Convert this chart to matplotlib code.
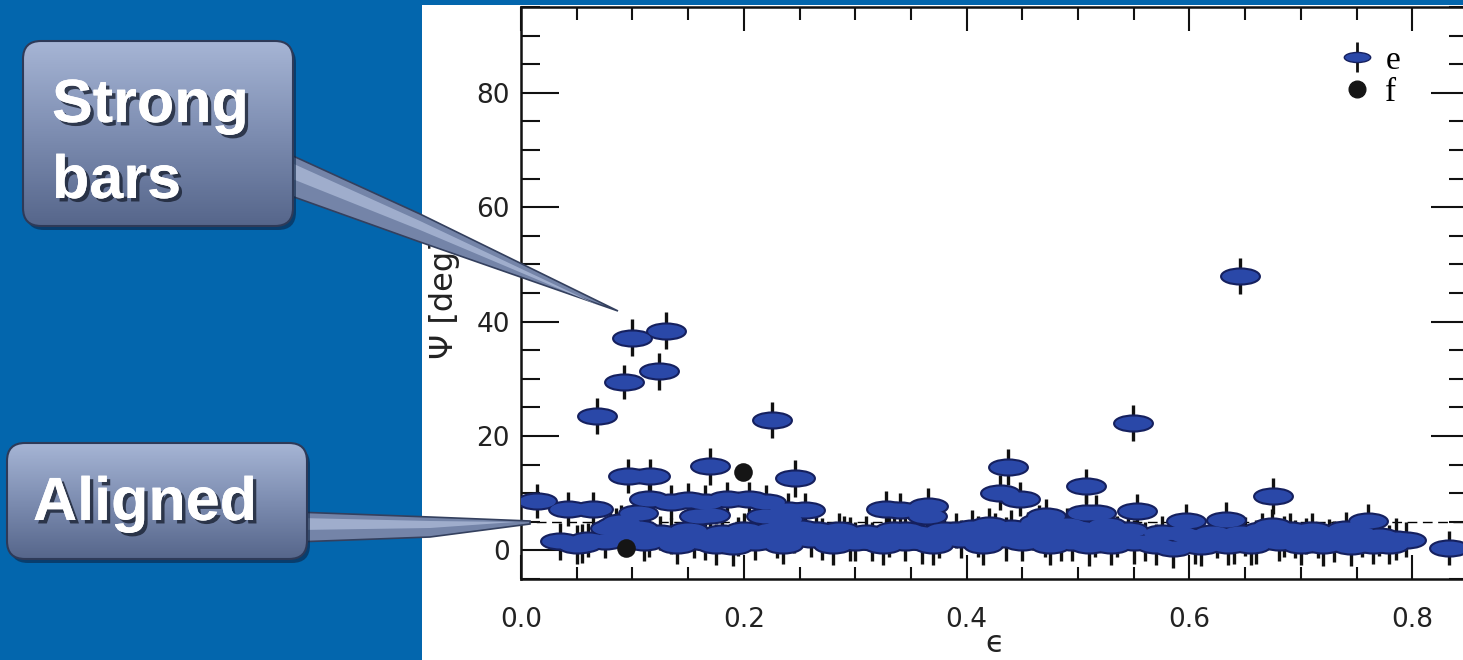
import numpy as np
import matplotlib
matplotlib.use('Agg')
import matplotlib.pyplot as plt
from matplotlib.path import Path
from matplotlib.transforms import Affine2D
from matplotlib.patches import FancyBboxPatch, Polygon, Rectangle
from matplotlib.colors import LinearSegmentedColormap
from matplotlib.lines import Line2D
import matplotlib.patheffects as pe

# sample "e": ellipticity, misalignment angle, error
e_eps = [0.014, 0.035, 0.042, 0.055, 0.065, 0.068, 0.075, 0.080, 0.085, 0.0925,
         0.095, 0.096, 0.100, 0.105, 0.110, 0.115, 0.116, 0.124, 0.125, 0.130,
         0.135, 0.140, 0.150, 0.150, 0.165, 0.165, 0.1695, 0.170, 0.180, 0.185,
         0.190, 0.200, 0.205, 0.210, 0.220, 0.2254, 0.225, 0.235, 0.240, 0.2457,
         0.250, 0.255, 0.260, 0.265, 0.280, 0.290, 0.300, 0.310, 0.325, 0.328,
         0.335, 0.340, 0.345, 0.355, 0.364, 0.365, 0.370, 0.380, 0.395, 0.405,
         0.415, 0.425, 0.430, 0.4375, 0.440, 0.4475, 0.450, 0.460, 0.465, 0.471,
         0.475, 0.480, 0.495, 0.500, 0.507, 0.507, 0.515, 0.516, 0.525, 0.530,
         0.545, 0.549, 0.5525, 0.560, 0.575, 0.585, 0.597, 0.600, 0.610, 0.620,
         0.633, 0.635, 0.645, 0.645, 0.655, 0.665, 0.674, 0.675, 0.680, 0.690,
         0.700, 0.715, 0.725, 0.7405, 0.745, 0.755, 0.760, 0.765, 0.779, 0.794,
         0.833,
         # dense band
         0.050, 0.060, 0.090, 0.105, 0.115, 0.135, 0.155, 0.160, 0.175, 0.195,
         0.215, 0.220, 0.230, 0.235, 0.245, 0.270, 0.285, 0.295, 0.315, 0.330,
         0.345, 0.360, 0.375, 0.390, 0.410, 0.420, 0.435, 0.455, 0.470, 0.485,
         0.490, 0.505, 0.510, 0.520, 0.535, 0.550, 0.570, 0.590, 0.605, 0.625,
         0.640, 0.650, 0.660, 0.685, 0.695, 0.705, 0.720, 0.730, 0.750, 0.770,
         0.785, 0.710]
e_psi = [8.6, 1.6, 7.2, 1.2, 7.2, 23.5, 1.7, 4.0, 4.5, 29.5,
         3.0, 13.0, 37.2, 4.0, 1.5, 9.0, 13.0, 31.3, 3.0, 38.4,
         8.5, 1.0, 8.8, 3.5, 8.5, 1.5, 14.7, 6.2, 3.0, 9.0,
         0.8, 3.5, 9.0, 1.5, 8.5, 22.8, 3.5, 1.0, 7.0, 12.6,
         4.0, 7.0, 2.0, 3.5, 1.0, 3.0, 1.5, 3.0, 1.0, 7.2,
         3.5, 7.0, 1.5, 3.0, 6.0, 7.7, 1.0, 3.5, 2.0, 4.0,
         1.0, 3.5, 10.1, 14.6, 4.0, 9.0, 1.5, 3.0, 5.0, 6.0,
         1.0, 3.5, 1.5, 4.0, 11.2, 6.6, 2.0, 6.6, 4.5, 1.0,
         3.5, 22.3, 6.9, 1.5, 3.0, 0.5, 5.1, 2.5, 0.8, 3.0,
         5.4, 1.0, 48.0, 3.0, 1.0, 3.5, 4.3, 9.5, 1.5, 3.5,
         1.0, 1.8, 2.5, 3.7, 0.8, 2.0, 5.1, 1.0, 1.0, 1.9,
         0.4,
         1.0, 1.8, 5.0, 6.5, 2.5, 2.5, 2.5, 6.0, 1.0, 2.5,
         3.0, 6.0, 2.5, 5.5, 3.0, 2.0, 3.5, 2.0, 1.5, 2.5,
         3.5, 1.5, 2.0, 3.5, 2.5, 4.5, 2.0, 3.5, 2.5, 2.0,
         4.5, 3.0, 1.0, 3.0, 2.5, 1.5, 1.0, 3.0, 1.5, 2.0,
         1.5, 2.5, 1.5, 2.5, 2.0, 2.5, 1.0, 1.5, 3.0, 2.5,
         2.0, 3.5]
e_err = [3.0, 3.2, 3.0, 3.4, 3.0, 3.2, 3.0, 2.8, 3.0, 3.0,
         3.2, 3.0, 3.2, 3.0, 3.4, 3.0, 3.0, 3.2, 3.0, 3.2,
         3.0, 3.4, 3.0, 3.0, 3.0, 3.2, 3.2, 3.0, 3.0, 3.0,
         3.6, 3.0, 3.0, 3.2, 3.0, 3.2, 3.0, 3.4, 3.0, 3.2,
         3.0, 3.0, 3.2, 3.0, 3.6, 3.0, 3.4, 3.0, 3.6, 3.2,
         3.0, 3.0, 3.4, 3.0, 3.0, 3.2, 3.6, 3.0, 3.4, 3.0,
         3.6, 3.0, 3.0, 3.2, 3.0, 3.0, 3.4, 3.0, 3.0, 3.0,
         3.6, 3.0, 3.4, 3.0, 3.0, 3.0, 3.2, 3.0, 3.0, 3.6,
         3.0, 3.2, 3.0, 3.4, 3.0, 3.6, 3.0, 3.0, 3.6, 3.0,
         3.0, 3.6, 3.2, 3.0, 3.6, 3.0, 3.0, 3.2, 3.4, 3.0,
         3.6, 3.2, 3.0, 3.0, 3.6, 3.2, 3.0, 3.4, 3.4, 3.0,
         3.0,
         3.4, 3.0, 3.0, 3.2, 3.6, 3.2, 3.8, 3.0, 3.6, 3.4,
         3.0, 3.2, 3.8, 3.0, 3.4, 3.6, 3.0, 3.8, 3.4, 3.6,
         3.0, 3.8, 3.4, 3.0, 3.6, 3.0, 3.8, 3.2, 3.6, 3.8,
         3.0, 3.4, 3.8, 3.2, 3.6, 3.8, 3.6, 3.2, 3.8, 3.4,
         3.8, 3.4, 3.8, 3.6, 3.4, 3.2, 3.8, 3.6, 3.2, 3.4,
         3.6, 3.0]

# sample "f"
f_eps = [0.0942, 0.1994]
f_psi = [0.5, 13.7]

x_ticks = [0.0, 0.2, 0.4, 0.6, 0.8]
y_ticks = [0, 20, 40, 60, 80]

bg_blue = '#0366ad'
fill = '#2a48a8'
edge = '#15205e'

W, H = 1463, 660
fig = plt.figure(figsize=(W / 100, H / 100), dpi=100)
fig.patch.set_facecolor(bg_blue)

# white slide panel behind the plot
fig.add_artist(Rectangle((422 / W, 0), 1, (H - 5) / H, transform=fig.transFigure,
                         facecolor='white', edgecolor='none', zorder=-1))

# axes run past the right edge of the picture, like the cropped original
ax = fig.add_axes([521 / W, (H - 579) / H, 947 / W, 572 / H])
ax.set_facecolor('white')
ax.set_xlim(0, 0.85)
ax.set_ylim(-5, 95)

ax.axhline(5, color='black', lw=1.0, ls=(0, (7, 4)), zorder=1)

ell = Path.unit_circle().transformed(Affine2D().scale(1, 0.38))

ax.errorbar(e_eps, e_psi, yerr=e_err, fmt='none', ecolor='#111111',
            elinewidth=2.4, capsize=0, zorder=2)
# outline layer then fill layer so overlapping ellipses merge into blobs
ax.scatter(e_eps, e_psi, s=700, marker=ell, c=edge, edgecolors=edge,
           linewidths=3, zorder=3)
ax.scatter(e_eps, e_psi, s=700, marker=ell, c=fill, linewidths=0, zorder=4)
ax.scatter(f_eps, f_psi, s=180, marker='o', c='#151515', linewidths=0, zorder=5)

ax.set_xticks(x_ticks)
ax.set_xticklabels(['%.1f' % v for v in x_ticks])
ax.set_yticks(y_ticks)
ax.xaxis.set_minor_locator(matplotlib.ticker.MultipleLocator(0.05))
ax.yaxis.set_minor_locator(matplotlib.ticker.MultipleLocator(5))
ax.tick_params(which='both', direction='in', top=True, right=True,
               width=1.5, colors='#111111', labelcolor='#222222')
ax.tick_params(axis='x', which='major', length=17, labelsize=19, pad=20)
ax.tick_params(axis='x', which='minor', length=9)
ax.tick_params(axis='y', which='major', length=27, labelsize=19, pad=8)
ax.tick_params(axis='y', which='minor', length=14)
for s in ax.spines.values():
    s.set_linewidth(1.8)
    s.set_color('#111111')

ax.set_ylabel('\u03a8 [deg]', fontsize=23, color='#222222')
ax.yaxis.set_label_coords(-0.064, 0.49)
ax.set_xlabel('\u03f5', fontsize=22, color='#222222', labelpad=-3)

h_e = (Line2D([], [], marker='|', ms=22, mew=2, color='#111111', ls='none'),
       Line2D([], [], marker=ell, ms=19, mfc=fill, mec=edge, ls='none'))
h_f = Line2D([], [], marker='o', ms=12, mfc='#151515', mec='#151515', ls='none')
ax.legend([h_e, h_f], ['e', 'f'], loc='upper right', bbox_to_anchor=(0.946, 0.962),
          frameon=False, borderpad=0, handlelength=1.3, handletextpad=0.2,
          labelspacing=0.05, prop={'family': 'Liberation Serif', 'size': 24})

# callouts drawn on a full-figure overlay in pixel coordinates
ov = fig.add_axes([0, 0, 1, 1], zorder=10)
ov.set_xlim(0, W)
ov.set_ylim(H, 0)
ov.axis('off')

cmap = LinearSegmentedColormap.from_list('box', ['#a6b5d5', '#7d8db1', '#56668b'])
grad = np.linspace(0, 1, 200).reshape(-1, 1)


def callout(x0, y0, x1, y1, pointer, glint):
    ov.add_patch(Polygon(pointer, closed=True, facecolor='#7484a8',
                         edgecolor='#34405e', lw=1.2, zorder=2))
    ov.add_patch(Polygon(glint, closed=True, facecolor='#aab8d6',
                         edgecolor='none', alpha=0.8, zorder=2.5))
    shadow = FancyBboxPatch((x0 + 3, y0 + 4), x1 - x0, y1 - y0,
                            boxstyle='round,pad=0,rounding_size=18',
                            facecolor='#0c2444', edgecolor='none', alpha=0.6, zorder=3)
    ov.add_patch(shadow)
    box = FancyBboxPatch((x0, y0), x1 - x0, y1 - y0,
                         boxstyle='round,pad=0,rounding_size=18',
                         facecolor='none', edgecolor='#2e3a58', lw=1.5, zorder=5)
    ov.add_patch(box)
    im = ov.imshow(grad, extent=(x0, x1, y1, y0), cmap=cmap, aspect='auto', zorder=4)
    im.set_clip_path(box)


callout(23, 41, 293, 226,
        [(280, 150), (420, 214), (618, 311), (420, 242), (280, 192)],
        [(285, 160), (420, 221), (600, 306), (420, 230), (285, 176)])
callout(7, 443, 307, 559,
        [(295, 512), (430, 517), (530, 521), (530, 524), (430, 537), (295, 542)],
        [(300, 518), (430, 521), (515, 522), (430, 528), (300, 530)])

shadow_fx = [pe.withSimplePatchShadow(offset=(2.5, -2.5), shadow_rgbFace='#1a2233', alpha=0.8),
             pe.Normal()]
txt = dict(color='white', fontsize=44, fontweight='bold', family='Liberation Sans',
           va='baseline', ha='left', zorder=6, path_effects=shadow_fx)
ov.text(52, 122, 'Strong', **txt)
ov.text(52, 198, 'bars', **txt)
ov.text(33, 520, 'Aligned', **txt)

ov.set_xlim(0, W)
ov.set_ylim(H, 0)

fig.savefig('out.png', dpi=100, facecolor=bg_blue)
